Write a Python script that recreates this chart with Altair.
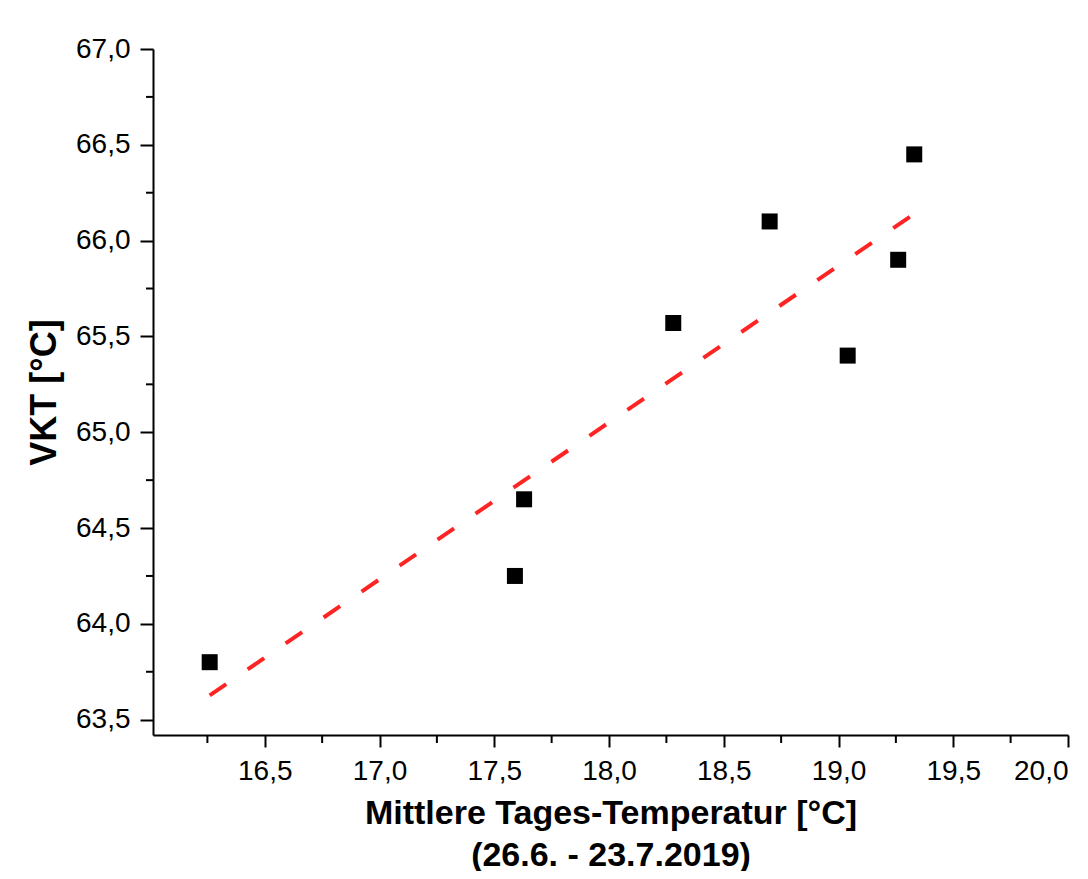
import altair as alt
import pandas as pd

mean_temp = [16.26, 17.59, 17.63, 18.28, 18.70, 19.04, 19.26, 19.33]
vkt = [63.80, 64.25, 64.65, 65.57, 66.10, 65.40, 65.90, 66.45]

x_major = [16.5, 17.0, 17.5, 18.0, 18.5, 19.0, 19.5, 20.0]
x_minor = [16.25, 16.75, 17.25, 17.75, 18.25, 18.75, 19.25, 19.75]
y_major = [63.5, 64.0, 64.5, 65.0, 65.5, 66.0, 66.5, 67.0]
y_minor = [63.75, 64.25, 64.75, 65.25, 65.75, 66.25, 66.75]

df = pd.DataFrame({"x": mean_temp, "y": vkt})
dfx = pd.DataFrame({"x": x_minor})
dfy = pd.DataFrame({"y": y_minor})

W, H = 915, 686
FONT = "Liberation Sans"
label_expr = "replace(format(datum.value, '.1f'), '.', ',')"

xscale = alt.Scale(domain=[16.013, 20.0], nice=False, zero=False)
yscale = alt.Scale(domain=[63.42, 67.0], nice=False, zero=False)

x_axis = alt.Axis(
    values=x_major, labelExpr=label_expr, tickSize=12, tickWidth=2,
    domainWidth=2, domainColor="black", tickColor="black", grid=False,
    labelFont=FONT, labelFontSize=28, labelColor="black", labelPadding=10,
    title=["Mittlere Tages-Temperatur [°C]", "(26.6. - 23.7.2019)"],
    titleFont=FONT, titleFontSize=34, titleFontWeight="bold", titleColor="black",
    titleLineHeight=42, titlePadding=11,
)
y_axis = alt.Axis(
    values=y_major, labelExpr=label_expr, tickSize=13, tickWidth=2,
    domainWidth=2, domainColor="black", tickColor="black", grid=False,
    labelFont=FONT, labelFontSize=28, labelColor="black", labelPadding=10,
    title="VKT [°C]", titleFont=FONT, titleFontSize=36, titleFontWeight="bold",
    titleColor="black", titlePadding=12,
)

points = alt.Chart(df).mark_square(size=256, color="black", opacity=1, filled=True).encode(
    x=alt.X("x:Q", scale=xscale, axis=x_axis),
    y=alt.Y("y:Q", scale=yscale, axis=y_axis),
)

fit = alt.Chart(df).transform_regression("x", "y").mark_line(
    color="#FF2424", strokeWidth=4, strokeDash=[20, 26]
).encode(
    x=alt.X("x:Q", scale=xscale, axis=x_axis),
    y=alt.Y("y:Q", scale=yscale, axis=y_axis),
)

xminor = alt.Chart(dfx).mark_rule(color="black", strokeWidth=2).encode(
    x=alt.X("x:Q", scale=xscale, axis=x_axis),
    y=alt.value(H),
    y2=alt.value(H + 8),
)
yminor = alt.Chart(dfy).mark_rule(color="black", strokeWidth=2).encode(
    y=alt.Y("y:Q", scale=yscale, axis=y_axis),
    x=alt.value(0),
    x2=alt.value(-7),
)

chart = alt.layer(fit, points, xminor, yminor).properties(
    width=W, height=H,
    background="white",
    autosize=alt.AutoSizeParams(type="none"),
    padding={"left": 145, "top": 41, "right": 12, "bottom": 136},
).configure_view(stroke=None)

chart.save("out.html", embed_options={"renderer": "svg", "actions": False})
